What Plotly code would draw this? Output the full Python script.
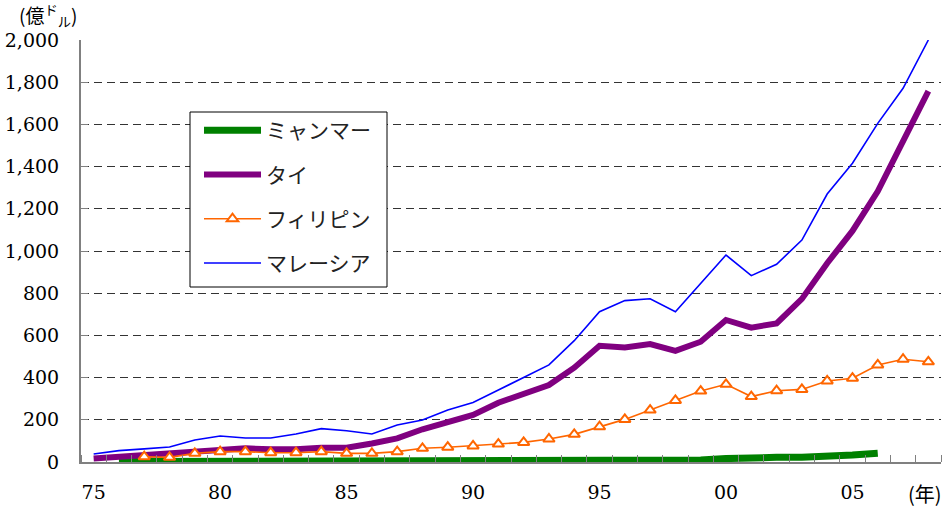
import plotly.graph_objects as go

years = list(range(1975, 2009))

myanmar = [None, 2, 2, 2, 2, 2, 2, 2, 2, 2, 2, 2, 2, 2, 2, 2, 2, 2, 3,
           8, 9, 9, 9, 10, 10, 16, 22, 22, 23, 25, 33, 42, None, None]
thailand = [17, 25, 32, 40, 53, 60, 65, 60, 60, 68, 68, 88, 112, 155, 190, 223,
            281, 321, 365, 447, 551, 543, 559, 527, 570, 673, 637, 657, 773, 942,
            1095, 1283, 1522, 1758]
philippines = [None, None, 25, 22, 41, 49, 49, 44, 44, 49, 41, 41, 49, 65, 70, 76,
               85, 93, 109, 131, 167, 202, 246, 292, 336, 368, 310, 338, 344, 384,
               397, 460, 487, 475]
malaysia = [38, 54, 62, 71, 104, 123, 114, 114, 133, 158, 148, 133, 175, 199, 246,
            282, 341, 400, 460, 575, 712, 765, 774, 712, 848, 981, 883, 937, 1052,
            1270, 1416, 1605, 1771, 2000]

x_tick_vals = [1975, 1980, 1985, 1990, 1995, 2000, 2005]
x_tick_text = ["75", "80", "85", "90", "95", "00", "05"]
y_tick_vals = [0, 200, 400, 600, 800, 1000, 1200, 1400, 1600, 1800, 2000]
y_tick_text = ["0", "200", "400", "600", "800", "1,000", "1,200", "1,400",
               "1,600", "1,800", "2,000"]

names = ["ミャンマー", "タイ", "フィリピン", "マレーシア"]

serif = "DejaVu Serif"
jp = "Noto Sans CJK JP"

# plot area in pixels: x 81..941, y 40..462
def px_x(p):
    return (p - 81) / 860

def px_y(p):
    return (462 - p) / 422

fig = go.Figure()
fig.add_trace(go.Scatter(x=years, y=myanmar, name=names[0], mode="lines",
                         line=dict(color="#008000", width=7), legendgroup="a"))
fig.add_trace(go.Scatter(x=years, y=thailand, name=names[1], mode="lines",
                         line=dict(color="#800080", width=6), legendgroup="b"))
fig.add_trace(go.Scatter(x=years, y=philippines, name=names[2], mode="lines+markers",
                         line=dict(color="#FF6600", width=1.6),
                         marker=dict(symbol="triangle-up", size=10, color="white",
                                     line=dict(color="#FF6600", width=2)),
                         legendgroup="c"))
fig.add_trace(go.Scatter(x=years, y=malaysia, name=names[3], mode="lines",
                         line=dict(color="#0000FF", width=1.6), legendgroup="d"))

minor_vals = [y - 0.5 for y in years] + [years[-1] + 0.5]

fig.update_layout(
    width=947, height=509,
    margin=dict(l=81, r=6, t=40, b=47, autoexpand=False),
    plot_bgcolor="white", paper_bgcolor="white",
    showlegend=True,
    legend=dict(x=px_x(199), y=px_y(110), xanchor="left", yanchor="top",
                borderwidth=0, bgcolor="rgba(0,0,0,0)",
                font=dict(family=jp, size=21, color="#222"),
                itemwidth=57, traceorder="grouped", tracegroupgap=14),
    shapes=[dict(type="rect", xref="paper", yref="paper",
                 x0=px_x(190), x1=px_x(387), y0=px_y(287), y1=px_y(112),
                 line=dict(color="black", width=1), fillcolor="white", layer="above")],
    xaxis=dict(range=[1974.5, 2008.5], tickmode="array", tickvals=x_tick_vals,
               ticktext=x_tick_text, ticks="", showgrid=False, zeroline=False,
               showline=True, linecolor="#808080", linewidth=2, automargin=False,
               tickfont=dict(family=serif, size=19, color="black"),
               ticklabelstandoff=12,
               minor=dict(tickmode="array", tickvals=minor_vals, ticks="inside",
                          ticklen=7, tickcolor="#808080", tickwidth=1, showgrid=False)),
    yaxis=dict(range=[0, 2000], tickmode="array", tickvals=y_tick_vals,
               ticktext=y_tick_text, ticks="inside", ticklen=7, tickcolor="#808080",
               showgrid=True, gridcolor="#333333", gridwidth=1, griddash="8px,5px",
               zeroline=False, showline=True, linecolor="#808080", linewidth=2,
               automargin=False,
               tickfont=dict(family=serif, size=19, color="black"),
               ticklabelstandoff=16),
    annotations=[
        dict(text="(億<sup>ド</sup><sub>ル</sub>)", xref="paper", yref="paper",
             x=px_x(48), y=px_y(15), xanchor="center", yanchor="middle",
             showarrow=False, font=dict(family=jp, size=19, color="black")),
        dict(text="(年)", xref="paper", yref="paper",
             x=px_x(925), y=px_y(494), xanchor="center", yanchor="middle",
             showarrow=False, font=dict(family=jp, size=20, color="black")),
    ],
)

fig.write_html("out.html", config={"displayModeBar": False},
               post_script="document.body.style.margin='0px';document.body.style.padding='0px';")
